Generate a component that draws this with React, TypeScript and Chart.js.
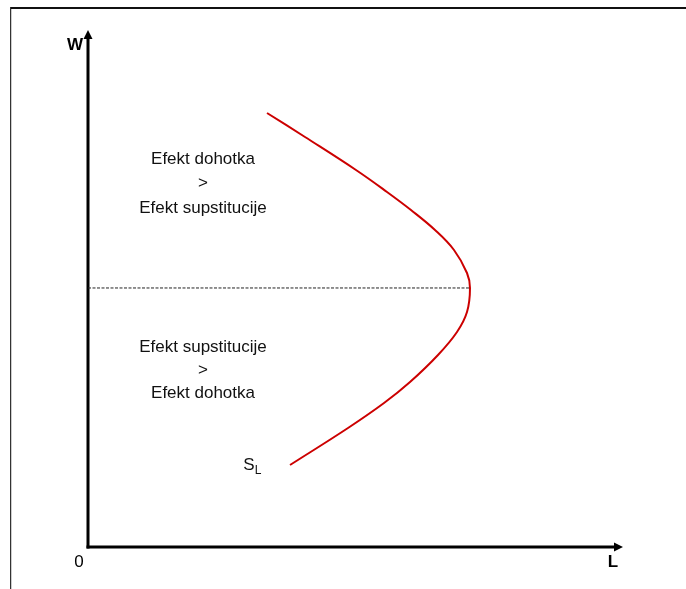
import React, { useEffect, useRef } from "react";
import { Chart, registerables } from "chart.js";

Chart.register(...registerables);

// Supply curve S_L (L, W) in axis units (0..100)
const curveL = [33.46, 40.56, 50.09, 55.89, 60.37, 64.86, 68.41, 70.84, 71.4, 70.84, 68.97, 65.42, 60.19, 55.33, 48.6, 37.76];
const curveW = [83.95, 79.3, 72.92, 68.67, 65.18, 61.32, 57.45, 53.0, 50.1, 45.45, 41.59, 37.14, 31.91, 27.85, 23.02, 15.86];

// Horizontal dashed reference line at the turning point
const dashL = [0, 71.4];
const dashW = [50.1, 50.1];

// Region annotations
const topLabels = ["Efekt dohotka", ">", "Efekt supstitucije"];
const topLabelW = [74.9, 70.4, 65.6];
const bottomLabels = ["Efekt supstitucije", ">", "Efekt dohotka"];
const bottomLabelW = [38.7, 34.2, 29.8];
const labelL = 21.5;

const axisMax = 100;

const FONT = '"Liberation Sans", Arial, Helvetica, sans-serif';

const decorPlugin = {
  id: "decor",
  beforeDatasetsDraw(chart: any) {
    const { ctx, scales } = chart;
    const x = scales.x;
    const y = scales.y;
    const x0 = x.getPixelForValue(0);
    const y0 = y.getPixelForValue(0);
    const xEnd = x.getPixelForValue(axisMax);
    const yEnd = y.getPixelForValue(axisMax);
    ctx.save();
    // frame
    ctx.strokeStyle = "#111";
    ctx.lineWidth = 2;
    ctx.beginPath();
    ctx.moveTo(10, 8);
    ctx.lineTo(chart.width, 8);
    ctx.stroke();
    ctx.strokeStyle = "#333";
    ctx.lineWidth = 1;
    ctx.beginPath();
    ctx.moveTo(10.5, 7);
    ctx.lineTo(10.5, chart.height);
    ctx.stroke();
    ctx.strokeStyle = "#ccc";
    ctx.beginPath();
    ctx.moveTo(11.5, 9);
    ctx.lineTo(11.5, chart.height);
    ctx.stroke();

    // axes
    ctx.strokeStyle = "#000";
    ctx.fillStyle = "#000";
    ctx.lineWidth = 3;
    ctx.lineCap = "butt";
    ctx.beginPath();
    ctx.moveTo(x0, y0 + 1.5);
    ctx.lineTo(x0, yEnd + 6);
    ctx.stroke();
    ctx.beginPath();
    ctx.moveTo(x0 - 1.5, y0);
    ctx.lineTo(xEnd - 6, y0);
    ctx.stroke();
    // arrow heads
    ctx.beginPath();
    ctx.moveTo(x0, yEnd);
    ctx.lineTo(x0 - 4.5, yEnd + 9);
    ctx.lineTo(x0 + 4.5, yEnd + 9);
    ctx.closePath();
    ctx.fill();
    ctx.beginPath();
    ctx.moveTo(xEnd, y0);
    ctx.lineTo(xEnd - 9, y0 - 4.5);
    ctx.lineTo(xEnd - 9, y0 + 4.5);
    ctx.closePath();
    ctx.fill();

    // axis labels
    ctx.textAlign = "center";
    ctx.textBaseline = "middle";
    ctx.fillStyle = "#000";
    ctx.font = "bold 17px " + FONT;
    ctx.fillText("W", x0 - 13, yEnd + 15);
    ctx.fillText("L", xEnd - 10, y0 + 15);
    ctx.font = "17px " + FONT;
    ctx.fillText("0", x0 - 9, y0 + 15);

    // region texts
    ctx.fillStyle = "#111";
    ctx.font = "17px " + FONT;
    const lx = x.getPixelForValue(labelL);
    topLabels.forEach((t, i) => ctx.fillText(t, lx, y.getPixelForValue(topLabelW[i])));
    bottomLabels.forEach((t, i) => ctx.fillText(t, lx, y.getPixelForValue(bottomLabelW[i])));

    // S_L label
    const sx = x.getPixelForValue(curveL[curveL.length - 1]) - 41;
    const sy = y.getPixelForValue(curveW[curveW.length - 1]);
    ctx.font = "17px " + FONT;
    ctx.fillText("S", sx, sy);
    ctx.font = "12px " + FONT;
    ctx.fillText("L", sx + 9, sy + 6);
    ctx.restore();
  },
};

export default function App() {
  const ref = useRef<HTMLCanvasElement | null>(null);
  useEffect(() => {
    if (!ref.current) return;
    const chart = new Chart(ref.current, {
      type: "scatter",
      data: {
        datasets: [
          {
            label: "dash",
            data: dashL.map((l, i) => ({ x: l, y: dashW[i] })),
            showLine: true,
            borderColor: "#222",
            borderWidth: 1,
            borderDash: [3, 1.5],
            pointRadius: 0,
            tension: 0,
          },
          {
            label: "S_L",
            data: curveL.map((l, i) => ({ x: l, y: curveW[i] })),
            showLine: true,
            borderColor: "#cc0000",
            borderWidth: 2,
            pointRadius: 0,
            tension: 0.4,
          },
        ],
      },
      options: {
        responsive: false,
        animation: false,
        layout: { padding: { left: 88, right: 63, top: 30, bottom: 42 } },
        plugins: { legend: { display: false }, tooltip: { enabled: false } },
        scales: {
          x: { type: "linear", min: 0, max: axisMax, display: false },
          y: { type: "linear", min: 0, max: axisMax, display: false },
        },
      },
      plugins: [decorPlugin],
    });
    return () => chart.destroy();
  }, []);
  return (
    <div style={{ position: "fixed", left: 0, top: 0, width: 686, height: 589, background: "#fff" }}>
      <canvas ref={ref} width={686} height={589} />
    </div>
  );
}
